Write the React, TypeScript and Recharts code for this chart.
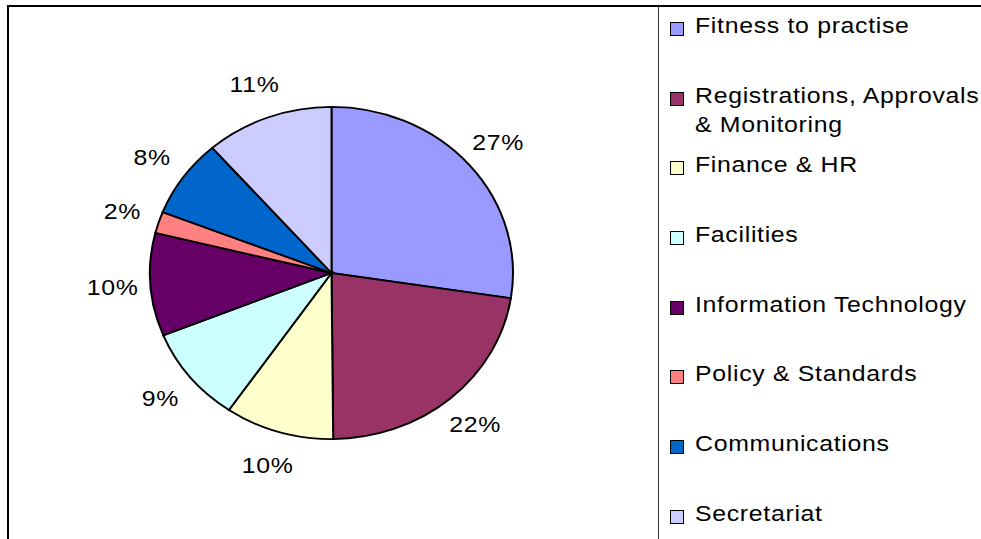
import React from 'react';
import { PieChart, Pie, Cell } from 'recharts';

const categories = [
  'Fitness to practise',
  'Registrations, Approvals & Monitoring',
  'Finance & HR',
  'Facilities',
  'Information Technology',
  'Policy & Standards',
  'Communications',
  'Secretariat',
];
const shares = [27.4, 22.4, 9.7, 9.3, 10.0, 2.1, 7.6, 11.4];
const colours = ['#9999FF', '#993366', '#FFFFCC', '#CCFFFF', '#660066', '#FF8080', '#0066CC', '#CCCCFF'];

const CX = 331.5;
const CY = 273;
const RADIUS = 181.5;
// the original picture is stretched sideways, so the pie is an ellipse
const SQUASH = 0.915;
const FONT = '"Liberation Sans", Arial, sans-serif';

const data = categories.map((name, i) => ({ name, value: shares[i] }));

const renderLabel = (props: any) => {
  const { cx, cy, midAngle, outerRadius, percent } = props;
  const rad = Math.PI / 180;
  const r = outerRadius + 38;
  const x = cx + r * Math.cos(-midAngle * rad);
  const y = cy + r * Math.sin(-midAngle * rad) * SQUASH;
  return (
    <text
      transform={`translate(${x} ${y}) scale(1.13 1)`}
      textAnchor="middle"
      dominantBaseline="central"
      fontSize={22}
      fontFamily={FONT}
      letterSpacing={0.6}
      fill="#000"
    >
      {`${Math.round(percent * 100)}%`}
    </text>
  );
};

export default function App() {
  return (
    <div style={{ position: 'absolute', left: 0, top: 0, width: 981, height: 539, overflow: 'hidden', background: '#fff', fontFamily: FONT }}>
      <style>{`.squash-pie .recharts-pie-sector { transform: scaleY(${SQUASH}); transform-origin: ${CX}px ${CY}px; }`}</style>
      <div style={{ position: 'absolute', left: 7, top: 5, width: 974, height: 2, background: '#000' }} />
      <div style={{ position: 'absolute', left: 7, top: 5, width: 2, height: 534, background: '#000' }} />
      <div style={{ position: 'absolute', left: 658, top: 6, width: 1, height: 533, background: '#333' }} />

      <div className="squash-pie" style={{ position: 'absolute', left: 0, top: 0 }}>
        <PieChart width={660} height={539} margin={{ top: 0, right: 0, bottom: 0, left: 0 }}>
          <Pie
            data={data}
            dataKey="value"
            nameKey="name"
            cx={CX}
            cy={CY}
            outerRadius={RADIUS}
            startAngle={90}
            endAngle={-270}
            stroke="#000"
            strokeWidth={2}
            label={renderLabel}
            labelLine={false}
            isAnimationActive={false}
          >
            {data.map((d, i) => (
              <Cell key={d.name} fill={colours[i]} />
            ))}
          </Pie>
        </PieChart>
      </div>

      {categories.map((name, i) => {
        const mid = 25.3 + i * 69.7;
        return (
          <div key={name}>
            <div
              style={{
                position: 'absolute',
                left: 670,
                top: mid - 3.5,
                width: 12,
                height: 12,
                border: '1.5px solid #000',
                background: colours[i],
              }}
            />
            <div
              style={{
                position: 'absolute',
                left: 695,
                top: mid - 14.5,
                width: 265,
                fontSize: 22,
                lineHeight: '29px',
                letterSpacing: '0.6px',
                color: '#000',
                transform: 'scaleX(1.13)',
                transformOrigin: 'left top',
              }}
            >
              {name}
            </div>
          </div>
        );
      })}
    </div>
  );
}
